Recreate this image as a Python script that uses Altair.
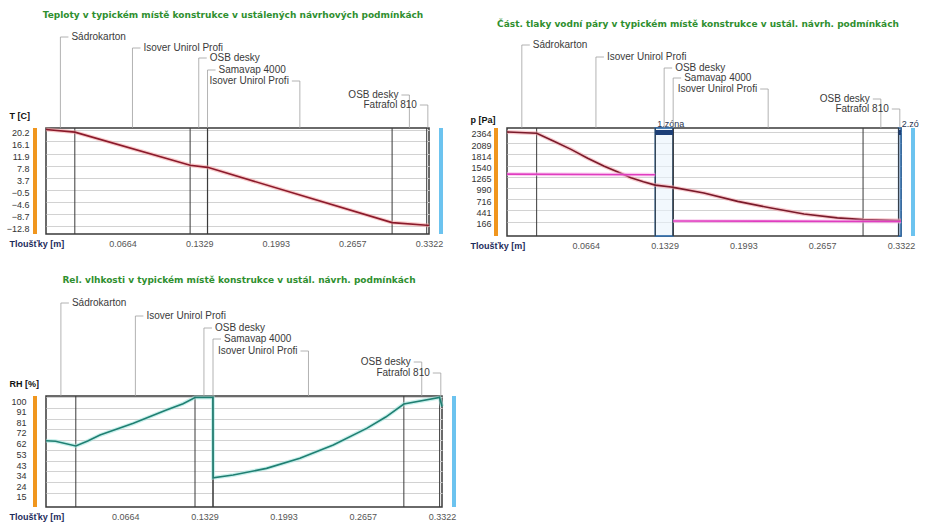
import altair as alt
import pandas as pd

FONT = "Liberation Sans"
HEAD_FONT = "DejaVu Sans"

# Construction layers, interior -> exterior
layer_names = ["Sádrokarton", "Isover Unirol Profi", "OSB desky", "Samavap 4000",
               "Isover Unirol Profi", "OSB desky", "Fatrafol 810"]
layer_thickness = [0.025, 0.100, 0.015, 0.0002, 0.160, 0.030, 0.002]

x_ticks = [0.0664, 0.1329, 0.1993, 0.2657, 0.3322]

# Temperature profile [C]
t_pos = [0, 0.025, 0.125, 0.14, 0.1402, 0.3002, 0.3302, 0.3322]
t_val = [20.2, 19.3, 7.9, 7.2, 7.2, -11.8, -12.7, -12.8]
t_ticks = [20.2, 16.1, 11.9, 7.8, 3.7, -0.5, -4.6, -8.7, -12.8]

# Saturated water vapour pressure [Pa]
ps_pos = [0, 0.025, 0.040, 0.054, 0.068, 0.082, 0.0945, 0.1045, 0.115, 0.125,
          0.14, 0.1402, 0.166, 0.1945, 0.2226, 0.2504, 0.2785, 0.3002, 0.3302, 0.3322]
ps_val = [2364, 2332, 2130, 1937, 1720, 1524, 1370, 1238, 1140, 1060,
          1006, 1004, 867, 660, 497, 350, 255, 212, 192, 190]

# Partial water vapour pressure [Pa], split by the vapour barrier
pa_in_pos = [0, 0.125]
pa_in_val = [1330, 1315]
pa_out_pos = [0.14, 0.3322]
pa_out_val = [180, 166]
p_ticks = [2364, 2089, 1814, 1540, 1265, 990, 716, 441, 166]

# Condensation zones
zone_names = ["1.zóna", "2.zóna"]
zone_from = [0.125, 0.3302]
zone_to = [0.14, 0.3322]

# Relative humidity [%]
rh_pos = [0, 0.008, 0.025, 0.035, 0.0453, 0.0733, 0.101, 0.115, 0.125, 0.14,
          0.1402, 0.157, 0.185, 0.213, 0.241, 0.269, 0.285, 0.3002, 0.3302, 0.3322]
rh_val = [61.3, 60.8, 56.6, 61.0, 66.4, 76.9, 88.8, 94.5, 100, 100,
          28.2, 30.7, 36.6, 45.6, 57.5, 72.4, 82.5, 94.2, 100, 92]
rh_ticks = [100, 91, 81, 72, 62, 53, 43, 34, 24, 15]

# layer edges and centres
edges = [0.0]
for th in layer_thickness:
    edges.append(round(edges[-1] + th, 6))
total = edges[-1]
inner_edges = edges[1:-1]
mids = [(a + b) / 2 for a, b in zip(edges[:-1], edges[1:])]

ONE = pd.DataFrame({"k": [0]})
ORANGE = "#f0961e"
BLUE = "#6cc3ef"
LEADER = "#a0a0a0"


def xy(pos, val):
    return pd.DataFrame({"x": pos, "y": val})


def build_panel(w, h, series, y_ticks, y_fmt, y_domain, y_title, y_title_y,
                label_shift, label_pad, title, title_x, title_y, lvl_y, extras=()):
    xs = alt.Scale(domain=[0, total], nice=False, zero=False)
    ys = alt.Scale(domain=y_domain, nice=False, zero=False)
    X = alt.X("x:Q", scale=xs, axis=alt.Axis(
        values=x_ticks, format=".4f", grid=False, domain=False, ticks=False,
        labelPadding=9, labelBaseline="middle", labelFontSize=9, labelColor="#555",
        labelFlush=False, labelOverlap=False,
        title="Tloušťky [m]", titleX=-37, titleY=9, titleAlign="left",
        titleBaseline="middle", titleAngle=0, titleFontSize=9,
        titleFontWeight="bold", titleColor="#1d2b5c"))
    Y = alt.Y("y:Q", scale=ys, axis=alt.Axis(
        values=y_ticks, format=y_fmt, grid=True, gridColor="#d2d2d2", gridWidth=1,
        domain=False, ticks=False, labelPadding=label_pad, labelFontSize=9,
        labelColor="#333", labelBaseline="middle", labelOffset=label_shift,
        labelOverlap=False, labelFlush=False,
        title=y_title, titleX=-37, titleY=y_title_y, titleAlign="left",
        titleBaseline="middle", titleAngle=0, titleFontSize=9,
        titleFontWeight="bold", titleColor="#111"))

    layers = []
    # interior / exterior side bars
    layers.append(alt.Chart(ONE).mark_rect(color=ORANGE).encode(
        x=alt.value(-13), x2=alt.value(-9), y=alt.value(0), y2=alt.value(h)))
    layers.append(alt.Chart(ONE).mark_rect(color=BLUE).encode(
        x=alt.value(w + 10), x2=alt.value(w + 14), y=alt.value(0), y2=alt.value(h)))

    layers.extend(extras[:1] if extras else [])

    # layer boundaries
    layers.append(alt.Chart(pd.DataFrame({"x": inner_edges})).mark_rule(
        color="#3a3a3a", strokeWidth=1).encode(x=X))

    for s in series:
        df = xy(s["pos"], s["val"])
        layers.append(alt.Chart(df).mark_line(
            color=s["halo"], strokeWidth=4, opacity=0.55).encode(x=X, y=Y))
        layers.append(alt.Chart(df).mark_line(
            color=s["color"], strokeWidth=1.6).encode(x=X, y=Y))

    layers.extend(extras[1:] if extras else [])

    # layer name annotations with leader lines
    ann = pd.DataFrame({"name": layer_names, "x": mids, "level": list(range(len(layer_names)))})
    base = alt.Chart(ann).transform_calculate(
        ly=f"{lvl_y}[datum.level]", side="datum.level < 4 ? 'L' : 'R'")
    LY = alt.Y("ly:Q", scale=None, axis=None)
    layers.append(base.mark_rule(color=LEADER, strokeWidth=0.8).encode(
        x=X, y=LY, y2=alt.value(0)))
    left = base.transform_filter("datum.side == 'L'")
    right = base.transform_filter("datum.side == 'R'")
    layers.append(left.mark_rule(color=LEADER, strokeWidth=0.8, x2Offset=8).encode(
        x=X, x2=alt.X2("x:Q"), y=LY))
    layers.append(right.mark_rule(color=LEADER, strokeWidth=0.8, x2Offset=-8).encode(
        x=X, x2=alt.X2("x:Q"), y=LY))
    layers.append(left.mark_text(align="left", dx=11, baseline="middle", fontSize=10,
                                 color="#3a3a3a").encode(x=X, y=LY, text="name:N"))
    layers.append(right.mark_text(align="right", dx=-11, baseline="middle", fontSize=10,
                                  color="#3a3a3a").encode(x=X, y=LY, text="name:N"))

    # panel heading
    layers.append(alt.Chart(ONE).mark_text(
        font=HEAD_FONT, fontSize=9, fontWeight="bold", color="#2f8f2f",
        baseline="middle", align="center").encode(
        x=alt.value(title_x), y=alt.value(title_y), text=alt.value(title)))

    return alt.layer(*layers).properties(width=w, height=h)


# ---- temperature ----
temp = build_panel(
    383, 106,
    [{"pos": t_pos, "val": t_val, "color": "#8b1a2b", "halo": "#f4a3a3"}],
    t_ticks, ".1f", [-15.72, 20.72], "T [C]", -13, 3, 17,
    "Teploty v typickém místě konstrukce v ustálených návrhových podmínkách",
    187, -113, [-91, -80, -70, -58, -47, -33, -23])

# ---- vapour pressure ----
zone_df = pd.DataFrame({"name": zone_names, "x": zone_from, "x2": zone_to})
PH = 108
xs_p = alt.Scale(domain=[0, total], nice=False, zero=False)
zone_box = alt.Chart(zone_df).mark_rect(
    fill="#eaf4fb", fillOpacity=0.6, stroke="#2b6cb0", strokeWidth=1.5).encode(
    x=alt.X("x:Q", scale=xs_p), x2="x2:Q", y=alt.value(0), y2=alt.value(PH))
zone_cap = alt.Chart(zone_df).mark_rect(color="#1d3f77").encode(
    x=alt.X("x:Q", scale=xs_p), x2="x2:Q", y=alt.value(2), y2=alt.value(7))
zone_lbl_1 = alt.Chart(zone_df).transform_filter("datum.x < 0.3").mark_text(
    align="left", dx=2, baseline="middle", fontSize=9, color="#2a3550").encode(
    x=alt.X("x:Q", scale=xs_p), y=alt.value(-4), text="name:N")
# the exterior zone label runs into the page edge
zone_lbl_2 = alt.Chart(zone_df).transform_filter("datum.x > 0.3").mark_text(
    align="left", dx=3, baseline="middle", fontSize=9, color="#2a3550",
    limit=20, ellipsis="\u200b").encode(
    x=alt.X("x:Q", scale=xs_p), y=alt.value(-4), text="name:N")

press = build_panel(
    394, PH,
    [{"pos": ps_pos, "val": ps_val, "color": "#7a1a2a", "halo": "#f2a0a8"},
     {"pos": pa_in_pos, "val": pa_in_val, "color": "#e03cc0", "halo": "#f7b8ea"},
     {"pos": pa_out_pos, "val": pa_out_val, "color": "#e03cc0", "halo": "#f7b8ea"}],
    p_ticks, "d", [-190, 2462], "p [Pa]", -9, 2, 16,
    "Část. tlaky vodní páry v typickém místě konstrukce v ustál. návrh. podmínkách",
    191, -104, [-83, -71, -60, -50, -39, -29, -19],
    extras=(zone_box, zone_cap, zone_lbl_1, zone_lbl_2))

# ---- relative humidity ----
hum = build_panel(
    396, 111,
    [{"pos": rh_pos, "val": rh_val, "color": "#1f7f72", "halo": "#9fe3dc"}],
    rh_ticks, "d", [2.03, 101.34], "RH [%]", -13, 4, 20,
    "Rel. vlhkosti v typickém místě konstrukce v ustál. návrh. podmínkách",
    193, -116, [-93, -80, -68, -57, -45, -34, -23])

chart = alt.ConcatChart(
    concat=[temp, press, hum], columns=2, bounds="flush",
    spacing={"column": 65, "row": 160},
).properties(
    padding={"left": 5, "top": 10, "right": 0, "bottom": 0},
    background="white",
).configure(font=FONT).configure_view(stroke="#3a3a3a", strokeWidth=1.5)

chart.save("out.html", embed_options={"renderer": "svg", "actions": False})
